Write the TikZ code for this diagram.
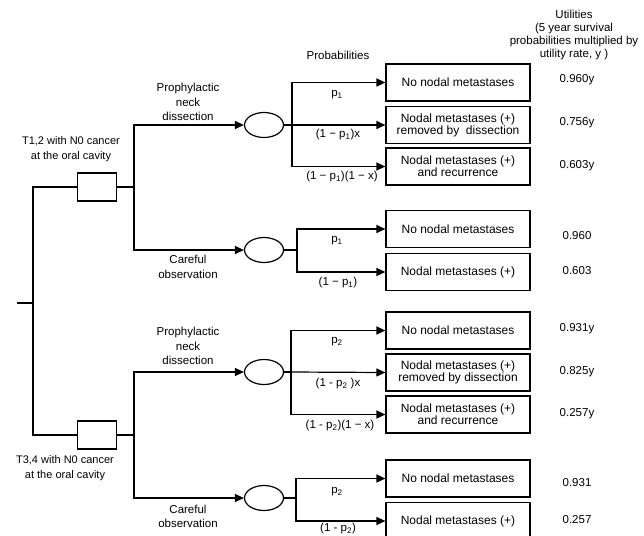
\documentclass[tikz,border=0pt]{standalone}
\usepackage{fontspec}
\setmainfont{Liberation Sans}
\usetikzlibrary{shapes.geometric,arrows.meta}
\begin{document}
\begin{tikzpicture}[x=1pt,y=-1pt,
  every node/.style={font=\fontsize{11.5}{14.5}\selectfont, inner sep=0pt},
  line/.style={line width=1.2pt},
  arr/.style={line width=1.2pt,-{Triangle[length=9pt,width=8pt]}},
  dbox/.style={draw,line width=1.2pt,minimum width=39pt,minimum height=28pt},
  chance/.style={draw,ellipse,line width=1.2pt,minimum width=39pt,minimum height=25pt},
  obox/.style={draw,line width=1.2pt,minimum width=144pt,minimum height=37pt,align=center,font=\fontsize{12}{12}\selectfont},
  lbl/.style={align=center},
  util/.style={font=\fontsize{11.5}{13}\selectfont},
]
\useasboundingbox (0,0) rectangle (644,535);

% decision nodes
\node[dbox] (d1) at (97,187) {};
\node[dbox] (d2) at (97,435) {};
% chance nodes
\node[chance] (c1) at (264,125) {};
\node[chance] (c2) at (264,250) {};
\node[chance] (c3) at (264,372) {};
\node[chance] (c4) at (264,498) {};
% outcome boxes
\node[obox] (o1) at (458,82.5) {No nodal metastases};
\node[obox] (o2) at (458,125) {Nodal metastases (+)\\removed by\ \ dissection};
\node[obox] (o3) at (458,166.5) {Nodal metastases (+)\\and recurrence};
\node[obox] (o4) at (458,229) {No nodal metastases};
\node[obox] (o5) at (458,272) {Nodal metastases (+)};
\node[obox] (o6) at (458,330.5) {No nodal metastases};
\node[obox] (o7) at (458,372.5) {Nodal metastases (+)\\removed by dissection};
\node[obox] (o8) at (458,414.5) {Nodal metastases (+)\\and recurrence};
\node[obox] (o9) at (458,478.5) {No nodal metastases};
\node[obox] (o10) at (458,521) {Nodal metastases (+)};

% junction coordinates
\coordinate (r0) at (17,303);
\coordinate (j0) at (33,303);
\coordinate (j1) at (134,187);
\coordinate (j2) at (134,435);
\coordinate (k1) at (292,125);
\coordinate (k2) at (297,250);
\coordinate (k3) at (291,372);
\coordinate (k4) at (296,498);

% connectors
\draw[line] (r0) -- (j0);
\draw[line] (j0) |- (d1.west);
\draw[line] (j0) |- (d2.west);
\draw[line] (d1.east) -- (j1);
\draw[line] (d2.east) -- (j2);
\draw[arr] (j1) |- (c1.west);
\draw[arr] (j1) |- (c2.west);
\draw[arr] (j2) |- (c3.west);
\draw[arr] (j2) |- (c4.west);
\draw[line] (c1.east) -- (k1);
\draw[line] (c2.east) -- (k2);
\draw[line] (c3.east) -- (k3);
\draw[line] (c4.east) -- (k4);
\draw[arr] (k1) |- (o1.west);
\draw[arr] (k1) -- (o2.west);
\draw[arr] (k1) |- (o3.west);
\draw[arr] (k2) |- (o4.west);
\draw[arr] (k2) |- (o5.west);
\draw[arr] (k3) |- (o6.west);
\draw[arr] (k3) -- (o7.west);
\draw[arr] (k3) |- (o8.west);
\draw[arr] (k4) |- (o9.west);
\draw[arr] (k4) |- (o10.west);

% labels
\node[lbl] (hp) at (338,55) {Probabilities};
\node[lbl,font=\fontsize{11.5}{13}\selectfont] (hu) at (574,35) {Utilities\\(5 year survival\\probabilities multiplied by\\utility rate, y )};
\node[lbl,font=\fontsize{11}{15}\selectfont] (t1) at (71,149.5) {T1,2 with N0 cancer\\at the oral cavity};
\node[lbl,font=\fontsize{11}{15}\selectfont] (t2) at (65,468.5) {T3,4 with N0 cancer\\at the oral cavity};
\node[lbl] (a1) at (188,102) {Prophylactic\\neck\\dissection};
\node[lbl] (a2) at (188,267) {Careful\\observation};
\node[lbl] (a3) at (188,346) {Prophylactic\\neck\\dissection};
\node[lbl] (a4) at (188,516.5) {Careful\\observation};

% probability labels
\node (q1) at (337,95) {p\textsubscript{1}};
\node (q2) at (338,135) {(1 − p\textsubscript{1})x};
\node (q3) at (342,177) {(1 − p\textsubscript{1})(1 − x)};
\node (q4) at (337,241) {p\textsubscript{1}};
\node (q5) at (338,283) {(1 − p\textsubscript{1})};
\node (q6) at (337,342) {p\textsubscript{2}};
\node (q7) at (338,384) {(1 - p\textsubscript{2} )x};
\node (q8) at (340,426) {(1 - p\textsubscript{2})(1 − x)};
\node (q9) at (337,492) {p\textsubscript{2}};
\node (q10) at (338,529) {(1 - p\textsubscript{2})};

% utilities
\node[util] (u1) at (577,80) {0.960y};
\node[util] (u2) at (577,123) {0.756y};
\node[util] (u3) at (577,166) {0.603y};
\node[util] (u4) at (577,236) {0.960};
\node[util] (u5) at (577,271) {0.603};
\node[util] (u6) at (577,329) {0.931y};
\node[util] (u7) at (577,372) {0.825y};
\node[util] (u8) at (577,414) {0.257y};
\node[util] (u9) at (577,483) {0.931};
\node[util] (u10) at (577,520) {0.257};
\end{tikzpicture}
\end{document}
